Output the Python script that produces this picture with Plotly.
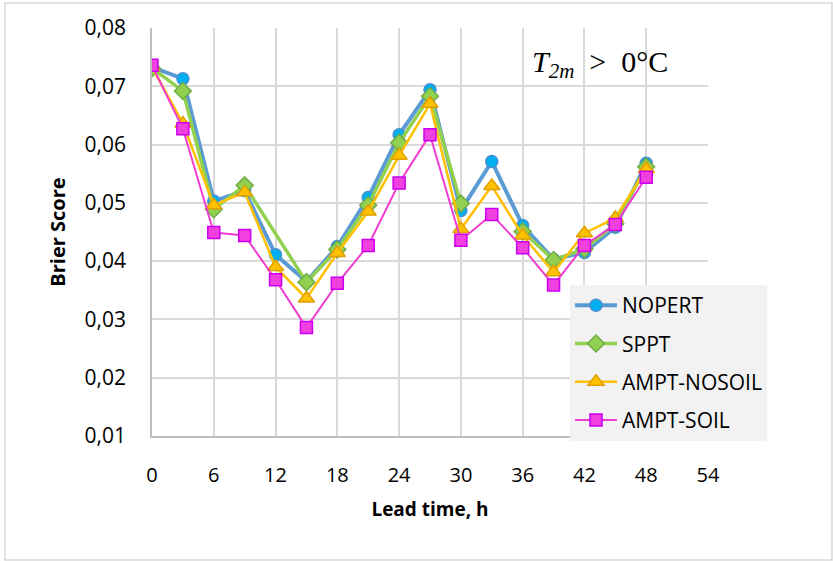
import plotly.graph_objects as go

lead_time = [0, 3, 6, 9, 12, 15, 18, 21, 24, 27, 30, 33, 36, 39, 42, 45, 48]
sppt_lead_time = [0, 3, 6, 9, 15, 18, 21, 24, 27, 30, 33, 36, 39, 42, 45, 48]

nopert = [0.0733, 0.0713, 0.0503, 0.0521, 0.0411, 0.0365, 0.0425, 0.0509, 0.0617, 0.0694,
          0.0487, 0.0571, 0.0461, 0.0403, 0.0415, 0.0458, 0.0568]
sppt = [0.0731, 0.0692, 0.0489, 0.0530, 0.0364, 0.0420, 0.0496, 0.0603, 0.0683,
        0.0499, None, 0.0451, 0.0402, 0.0421, 0.0464, 0.0562]
ampt_nosoil = [0.0733, 0.0636, 0.0496, 0.0518, 0.0390, 0.0336, 0.0414, 0.0485, 0.0581, 0.0670,
               0.0455, 0.0529, 0.0444, 0.0381, 0.0448, 0.0474, 0.0558]
ampt_soil = [0.0736, 0.0627, 0.0449, 0.0444, 0.0368, 0.0286, 0.0362, 0.0427, 0.0534, 0.0617,
             0.0436, 0.0480, 0.0423, 0.0359, 0.0427, 0.0463, 0.0544]

x_ticks = [0, 6, 12, 18, 24, 30, 36, 42, 48, 54]
y_ticks = [0.01, 0.02, 0.03, 0.04, 0.05, 0.06, 0.07, 0.08]

series = [
    ("NOPERT", lead_time, nopert, "#5b9bd5", 4, "circle", 12, "#00b0f0", "#4a90d0"),
    ("SPPT", sppt_lead_time, sppt, "#92d050", 3.5, "diamond", 13, "#92d050", "#70ad47"),
    ("AMPT-NOSOIL", lead_time, ampt_nosoil, "#ffc000", 2.5, "triangle-up", 14, "#ffc000", "#e0a000"),
    ("AMPT-SOIL", lead_time, ampt_soil, "#f03cd0", 2, "square", 12, "#f040e0", "#cc00ee"),
]

fig = go.Figure()
for i, (name, xs, vals, lc, lw, sym, ms, fc, bc) in enumerate(series):
    fig.add_trace(go.Scatter(
        x=xs, y=vals, name=name, mode="lines+markers",
        line=dict(color=lc, width=lw),
        marker=dict(symbol=sym, size=ms, color=fc, line=dict(color=bc, width=1.5)),
        legendgroup=f"g{i}", connectgaps=False,
    ))

W, H = 833, 561
L, R, T, B = 152, 125, 28, 125
pw, ph = W - L - R, H - T - B

def px(xp):
    return (xp - L) / pw

def py(yp):
    return (H - B - yp) / ph

grid_col = "#d9d9d9"
fig.update_layout(
    width=W, height=H,
    margin=dict(l=L, r=R, t=T, b=B),
    paper_bgcolor="white", plot_bgcolor="white",
    separators=", ",
    font=dict(family="Open Sans", size=17, color="#000000"),
    showlegend=True,
    legend=dict(
        x=px(570), y=py(285), xanchor="left", yanchor="top",
        bgcolor="#f2f2f2", borderwidth=0,
        font=dict(family="Open Sans", size=21, color="#000"),
        tracegroupgap=8,
        itemwidth=42,
    ),
    xaxis=dict(
        range=[0, 54], tickvals=x_ticks, ticktext=[str(v) for v in x_ticks],
        showgrid=True, gridcolor=grid_col, gridwidth=1.5,
        showline=True, linecolor="#bfbfbf", linewidth=1.5,
        zeroline=False, ticks="", ticklabelstandoff=20,
        title=dict(text="<b>Lead time, h</b>", font=dict(size=19), standoff=16),
        tickfont=dict(size=20),
    ),
    yaxis=dict(
        range=[0.01, 0.08], tickvals=y_ticks, tickformat=".2f",
        showgrid=True, gridcolor=grid_col, gridwidth=1.5,
        showline=True, linecolor="#bfbfbf", linewidth=1.5,
        zeroline=False, ticks="", ticklabelstandoff=20,
        title=dict(text="<b>Brier Score</b>", font=dict(size=20), standoff=14),
        tickfont=dict(size=21),
    ),
    shapes=[dict(
        type="rect", xref="paper", yref="paper",
        x0=px(5), x1=px(832), y0=py(560), y1=py(3),
        line=dict(color="#d9d9d9", width=1.5), fillcolor="rgba(0,0,0,0)", layer="below",
    )],
    annotations=[dict(
        xref="paper", yref="paper", x=px(600), y=py(64),
        text="<i>T</i><sub><i>2m</i></sub>&nbsp;&nbsp;>&nbsp;&nbsp;0°C", showarrow=False,
        font=dict(family="Liberation Serif", size=30, color="#000"),
        xanchor="center", yanchor="middle",
    )],
)

fig.write_html("out.html")
